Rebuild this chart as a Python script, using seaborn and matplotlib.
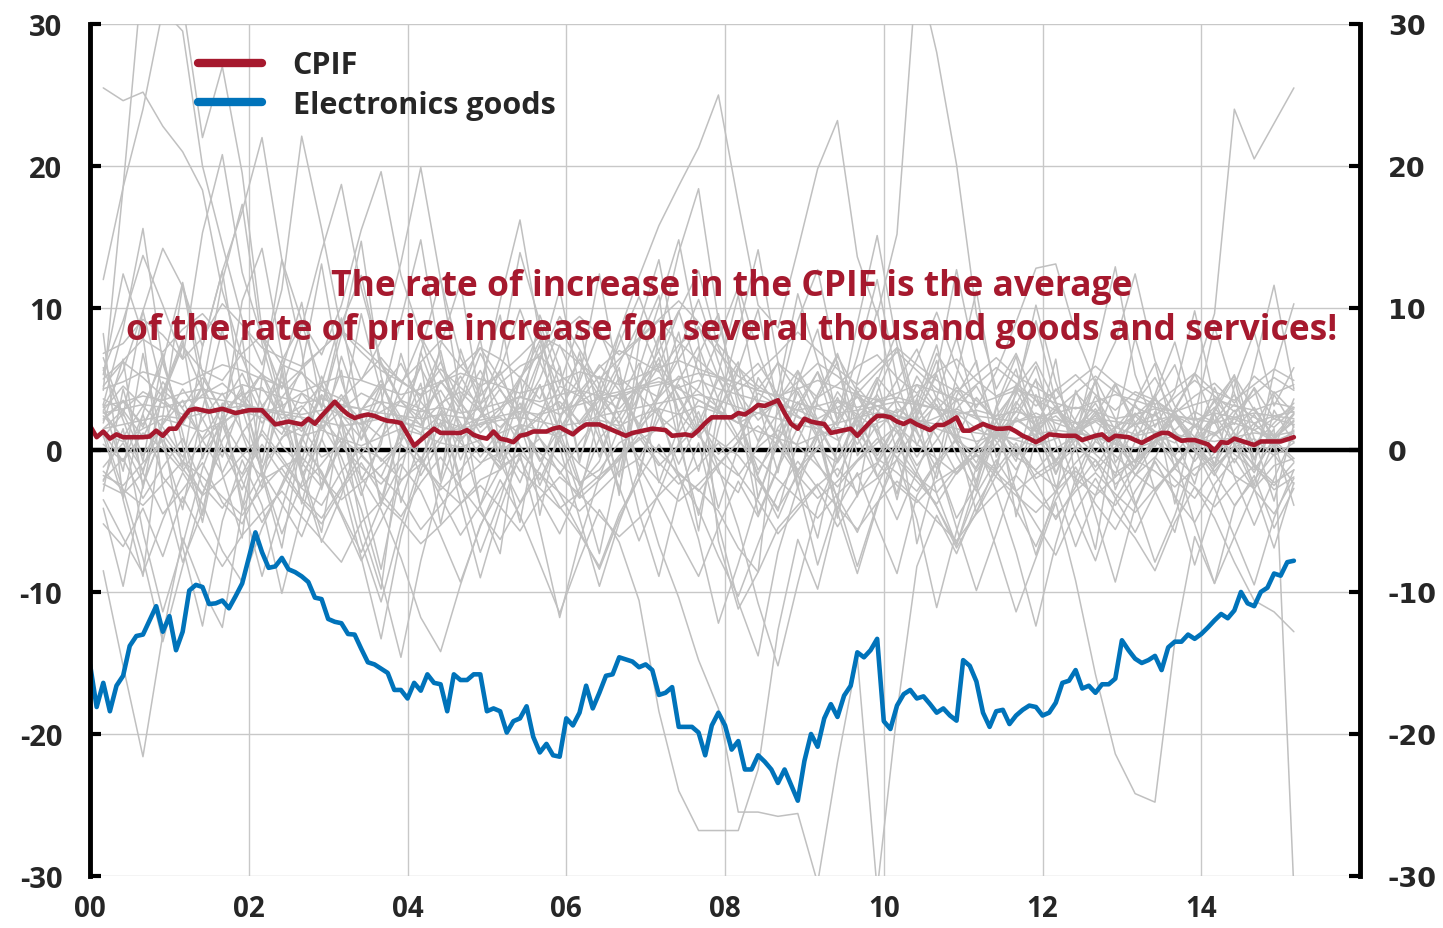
'''
CPIF versus electronics goods, annual percentage change, 2000-2015,
with the individual CPIF sub-indices drawn as thin grey lines behind.
'''

import numpy as np
import pandas as pd
import seaborn as sns
import matplotlib.pyplot as plt
from matplotlib.lines import Line2D

sns.set_style('white')
plt.rcParams['font.family'] = ['Open Sans', 'DejaVu Sans']
plt.rcParams['font.weight'] = 'bold'
plt.rcParams['axes.unicode_minus'] = False

RED = '#A6192E'
BLUE = '#0073BA'
GREY = '#C0C0C0'

# monthly, Jan 2000 - Mar 2015
cpif = [1.7, 0.9, 1.3, 0.8, 1.1, 0.9, 0.9, 0.9, 0.9, 0.95, 1.36, 1.0,
        1.5, 1.5, 2.2, 2.8, 2.9, 2.8, 2.7, 2.8, 2.9, 2.75, 2.6, 2.7,
        2.8, 2.8, 2.8, 2.3, 1.8, 1.9, 2.0, 1.9, 1.8, 2.2, 1.85, 2.4,
        2.9, 3.4, 2.9, 2.5, 2.25, 2.4, 2.5, 2.4, 2.2, 2.05, 2.0, 1.9,
        1.1, 0.3, 0.7, 1.1, 1.5, 1.2, 1.2, 1.2, 1.2, 1.4, 1.06, 0.9,
        0.8, 1.3, 0.8, 0.7, 0.55, 1.0, 1.1, 1.3, 1.3, 1.3, 1.5, 1.6,
        1.35, 1.1, 1.5, 1.8, 1.8, 1.8, 1.6, 1.4, 1.2, 1.0, 1.2, 1.3,
        1.4, 1.5, 1.45, 1.4, 1.0, 1.05, 1.1, 1.0, 1.4, 1.9, 2.3, 2.3,
        2.3, 2.3, 2.6, 2.5, 2.8, 3.17, 3.1, 3.3, 3.5, 2.6, 1.83, 1.5,
        2.2, 2.0, 1.9, 1.83, 1.2, 1.3, 1.4, 1.5, 1.0, 1.5, 2.0, 2.4,
        2.4, 2.3, 2.0, 1.83, 2.07, 1.8, 1.6, 1.4, 1.76, 1.76, 2.0, 2.3,
        1.36, 1.36, 1.6, 1.83, 1.65, 1.5, 1.5, 1.55, 1.3, 1.0, 0.8, 0.55,
        0.8, 1.1, 1.05, 1.0, 1.0, 1.0, 0.7, 0.85, 1.0, 1.1, 0.7, 1.0,
        0.95, 0.9, 0.7, 0.5, 0.75, 1.0, 1.2, 1.2, 0.9, 0.65, 0.7, 0.7,
        0.55, 0.4, -0.05, 0.55, 0.5, 0.8, 0.65, 0.5, 0.35, 0.6, 0.6, 0.6,
        0.6, 0.75, 0.9]

electronics = [-15.1, -18.1, -16.4, -18.4, -16.6, -15.9, -13.8, -13.1, -13.0, -12.0, -11.0, -12.8,
               -11.7, -14.1, -12.8, -9.9, -9.5, -9.65, -10.85, -10.8, -10.6, -11.15, -10.3, -9.4,
               -7.6, -5.8, -7.2, -8.3, -8.2, -7.6, -8.4, -8.6, -8.9, -9.3, -10.4, -10.5,
               -11.9, -12.1, -12.2, -12.96, -13.0, -14.0, -14.95, -15.1, -15.4, -15.7, -16.9, -16.9,
               -17.5, -16.4, -16.95, -15.8, -16.4, -16.5, -18.4, -15.8, -16.2, -16.2, -15.8, -15.8,
               -18.4, -18.2, -18.4, -19.9, -19.1, -18.9, -18.05, -20.2, -21.3, -20.7, -21.5, -21.6,
               -18.9, -19.4, -18.5, -16.6, -18.2, -17.1, -15.9, -15.8, -14.6, -14.75, -14.9, -15.3,
               -15.1, -15.5, -17.25, -17.1, -16.7, -19.5, -19.5, -19.5, -19.9, -21.5, -19.4, -18.5,
               -19.4, -21.1, -20.5, -22.5, -22.5, -21.5, -21.95, -22.5, -23.45, -22.5, -23.6, -24.7,
               -21.9, -20.0, -20.9, -18.9, -17.9, -18.8, -17.3, -16.6, -14.25, -14.6, -14.1, -13.3,
               -19.1, -19.65, -18.0, -17.2, -16.9, -17.5, -17.35, -17.9, -18.5, -18.2, -18.7, -19.06,
               -14.8, -15.2, -16.3, -18.5, -19.5, -18.4, -18.3, -19.3, -18.7, -18.3, -18.0, -18.1,
               -18.7, -18.5, -17.8, -16.4, -16.25, -15.5, -16.8, -16.6, -17.1, -16.5, -16.5, -16.1,
               -13.4, -14.1, -14.7, -15.0, -14.8, -14.5, -15.5, -13.9, -13.5, -13.5, -13.0, -13.3,
               -12.96, -12.5, -12.0, -11.55, -11.85, -11.3, -10.0, -10.8, -11.0, -10.0, -9.7, -8.7,
               -8.85, -7.9, -7.8]

# sub-indices, quarterly (Mar 2000 - Mar 2015), read off roughly
sub_indices = [
    [2.1, 3.4, 1.8, 4.2, 3.0, 5.1, 2.7, 3.9, 4.4, 2.2, 3.1, 1.5, 2.8, 4.0, 3.3, 2.1, 1.2, 2.5, 0.8, 1.9,
     2.3, 1.1, 2.6, 3.4, 2.0, 3.8, 2.9, 4.5, 3.7, 5.2, 4.1, 3.0, 4.8, 6.1, 3.9, 2.4, 1.5, 0.7, 2.2, 3.1,
     2.6, 3.9, 2.8, 4.4, 3.5, 2.1, 3.0, 1.7, 2.4, 1.2, 2.0, 0.9, 1.8, 2.5, 1.4, 2.7, 1.9, 3.2, 2.3, 1.6, 2.9],
    [-1.2, 0.5, -2.3, 1.1, -0.8, -3.1, 0.2, -1.7, 1.4, -0.5, -2.6, -1.0, 0.8, -0.3, -1.9, 1.2, -0.6, -2.8, -1.4, 0.4,
     -0.9, 1.6, -0.2, -1.5, -3.4, -2.1, -0.7, 0.9, -1.1, 0.3, 1.8, 0.6, -0.4, -2.2, -4.1, -1.8, 0.1, -0.9, 1.3, -0.6,
     -1.6, -2.9, -0.8, 0.7, -0.3, -1.4, 0.5, -2.0, -1.1, 0.2, -0.7, -2.4, -1.3, 0.6, -0.5, -1.8, -0.2, 1.0, -1.2, -2.5, -0.9],
    [4.5, 6.2, 5.1, 3.8, 7.3, 5.6, 4.9, 6.8, 8.1, 6.0, 5.4, 4.2, 3.6, 5.0, 6.5, 4.8, 3.9, 5.7, 4.4, 3.2,
     4.7, 5.9, 6.6, 5.3, 4.1, 5.8, 7.0, 6.3, 5.5, 7.4, 8.6, 6.9, 5.2, 4.3, 6.1, 5.0, 3.7, 4.6, 5.9, 6.7,
     5.1, 4.0, 5.5, 6.4, 4.9, 3.8, 4.5, 3.1, 4.2, 5.3, 3.9, 2.8, 4.1, 3.5, 2.6, 3.8, 4.7, 3.3, 5.2, 4.0, 4.6],
    [3.2, -1.5, 6.8, 0.4, -4.2, 2.9, 8.5, 1.1, -2.7, 5.4, -0.8, 4.6, 9.3, 2.0, -3.6, 1.7, 6.1, -1.9, 3.5, 7.8,
     0.2, -5.1, 2.4, 5.9, -0.6, 3.1, 8.2, 4.4, -2.3, 1.6, 6.7, 9.6, 3.0, -4.5, -1.2, 2.8, 5.5, 0.9, -3.3, 4.1,
     7.2, 1.4, -2.0, 3.8, 6.3, -0.5, 2.2, 5.0, -1.7, 1.3, 4.9, -2.8, 0.6, 3.7, 6.0, 1.8, -1.0, 2.5, 4.3, 0.1, 3.6],
    [1.5, 1.8, 2.1, 2.4, 2.2, 2.6, 2.9, 3.1, 2.8, 2.5, 2.3, 2.0, 1.7, 1.9, 2.2, 2.0, 1.6, 1.3, 1.5, 1.8,
     2.1, 2.3, 2.0, 1.7, 1.9, 2.4, 2.7, 3.0, 3.3, 3.6, 3.9, 3.5, 3.0, 2.6, 2.2, 1.8, 1.5, 1.9, 2.3, 2.6,
     2.4, 2.1, 1.8, 1.5, 1.2, 1.0, 0.8, 1.1, 1.4, 1.2, 0.9, 0.7, 1.0, 1.3, 1.1, 0.8, 0.6, 0.9, 1.2, 1.0, 1.3],
    [5.3, 12.4, 8.1, -2.6, -7.9, -4.3, 1.8, 10.5, 14.2, 6.7, -1.4, -5.8, 2.3, 9.6, 4.1, -3.7, 0.9, 7.4, 11.8, 3.2,
     6.5, 13.9, 9.0, 4.6, 8.8, 2.1, -1.9, 5.7, 10.2, 14.8, 7.5, -6.4, -11.2, -8.6, 3.4, 9.1, 12.7, 6.0, 1.5, 4.8,
     8.3, 2.6, -3.1, -6.7, -2.2, 1.4, -0.8, 3.9, 0.5, -4.6, -7.8, -3.5, -1.1, 2.7, -0.4, -5.2, -9.4, -6.1, -2.8, 0.6, -3.9],
    [3.1, 3.4, 3.8, 3.5, 4.0, 4.3, 3.9, 4.6, 4.2, 3.7, 3.3, 3.6, 3.2, 2.9, 3.4, 3.1, 2.7, 3.0, 2.6, 2.9,
     3.3, 3.7, 3.4, 3.9, 4.2, 3.8, 4.1, 4.5, 4.8, 4.4, 4.9, 4.3, 3.9, 3.5, 3.2, 2.8, 3.1, 3.5, 3.0, 3.4,
     3.7, 3.3, 2.9, 2.5, 2.8, 2.4, 2.7, 2.3, 2.6, 3.0, 2.7, 2.2, 2.5, 2.9, 2.4, 2.1, 2.6, 2.3, 1.9, 2.4, 2.2],
    [-2.4, -3.1, -1.6, -4.5, -2.8, -0.9, -3.7, -5.2, -2.1, -1.3, -3.4, -4.8, -2.6, -0.4, -1.9, -3.3, -5.6, -3.9, -2.2, -1.0,
     0.8, -1.5, -2.7, -4.1, -3.0, -1.8, -0.6, 1.2, -0.9, -2.4, -1.1, 0.5, -1.7, -3.6, -5.9, -4.2, -2.5, -1.3, -3.0, -2.0,
     -0.7, -2.2, -3.8, -1.6, -0.3, -1.9, -3.2, -4.4, -2.9, -1.5, -2.6, -3.9, -1.8, -0.5, -2.1, -3.4, -1.2, 0.3, -1.0, -2.3, -1.4],
    [8.2, -3.5, -8.9, 2.4, 11.6, 4.3, -1.7, -6.2, 5.1, 13.4, 7.0, -2.8, 1.9, -5.4, -9.8, 0.6, 6.9, 12.1, 3.7, -4.0,
     -7.3, 2.2, 9.5, 5.8, -0.9, 4.7, -3.2, 7.6, 10.9, 1.3, -5.7, 3.0, 8.4, 14.1, 6.2, -2.5, -8.1, -3.6, 4.9, 9.8,
     2.7, -6.6, -1.4, 5.3, 11.2, 3.5, -4.7, 0.8, 6.4, -2.1, -7.0, 1.6, 7.9, 3.1, -3.8, 2.3, 8.7, 4.0, -1.2, 5.6, 10.3],
    [0.4, -0.8, 1.2, 0.1, -1.5, 0.7, 2.0, -0.3, -1.9, 0.9, 1.6, -0.5, 0.3, -1.2, -2.4, -0.6, 0.8, 1.9, 0.5, -0.9,
     -0.2, 1.1, 2.3, 0.6, -1.0, -2.1, -0.4, 0.7, 1.5, 2.6, 1.0, -0.7, -1.8, 0.2, 1.4, 0.3, -1.1, -2.6, -0.8, 0.5,
     1.7, 0.4, -0.6, -1.7, -0.2, 0.9, -0.5, -1.4, 0.1, 1.0, -0.3, -1.6, -0.7, 0.6, 1.3, -0.1, -1.2, 0.2, 0.8, -0.4, 0.5],
    [2.6, 2.9, 3.2, 3.0, 3.4, 3.7, 3.5, 3.2, 2.9, 2.7, 2.5, 2.8, 3.1, 2.9, 2.6, 2.4, 2.2, 2.5, 2.3, 2.1,
     2.4, 2.7, 2.5, 2.9, 3.2, 3.6, 3.9, 4.3, 4.6, 5.0, 5.4, 5.1, 4.7, 4.2, 3.8, 3.3, 2.9, 2.6, 2.8, 3.1,
     3.4, 3.2, 2.9, 2.7, 2.4, 2.2, 2.0, 2.3, 2.1, 1.9, 2.2, 2.0, 1.8, 2.1, 2.4, 2.2, 1.9, 2.3, 2.6, 2.4, 2.7],
    [-1.8, -2.5, -0.9, 0.7, -1.3, -3.2, -2.0, -0.4, 1.1, -0.8, -2.7, -3.9, -1.5, 0.2, -0.6, -2.1, -1.0, 0.9, 1.8, 0.4,
     -1.2, -0.3, 0.8, -0.9, -2.3, -1.4, 0.5, 1.3, -0.2, -1.6, -2.9, -1.1, 0.6, 1.7, 0.3, -1.8, -3.4, -2.2, -0.7, 0.8,
     -0.5, -1.9, -3.0, -1.3, 0.1, 1.4, 0.2, -1.5, -2.6, -0.9, 0.6, -0.4, -1.7, -2.8, -1.1, 0.5, 1.2, -0.3, -1.4, 0.7, -0.6],
    [6.8, 7.5, 9.2, 8.1, 6.4, 7.9, 10.3, 8.8, 7.2, 6.5, 5.9, 7.1, 8.4, 6.9, 5.6, 4.8, 6.2, 7.7, 5.9, 4.5,
     5.3, 6.6, 8.0, 7.3, 6.1, 5.0, 6.4, 7.8, 9.1, 7.6, 6.3, 5.1, 4.2, 5.5, 6.8, 8.3, 7.0, 5.7, 4.6, 5.9,
     7.2, 6.0, 4.9, 4.1, 5.3, 6.5, 5.2, 4.4, 3.6, 4.8, 5.9, 4.7, 3.9, 3.2, 4.3, 5.4, 4.1, 3.5, 4.6, 5.7, 4.9],
    [-5.2, -6.8, -4.1, -7.5, -3.3, -5.9, -8.2, -6.0, -4.4, -2.9, -4.7, -6.3, -7.9, -5.1, -3.6, -4.9, -6.6, -5.3, -3.8, -2.5,
     -4.0, -5.7, -3.4, -1.9, -3.1, -4.6, -6.1, -4.8, -3.2, -1.7, -2.8, -4.3, -6.9, -8.6, -5.5, -3.9, -2.4, -4.0, -5.6, -3.7,
     -2.2, -3.5, -5.0, -6.4, -4.5, -3.0, -1.8, -3.3, -4.7, -2.9, -1.6, -3.1, -4.4, -2.7, -1.3, -2.6, -4.0, -2.4, -1.1, -2.8, -1.9],
    [4.3, 4.8, 5.5, 5.1, 4.6, 5.3, 6.0, 5.6, 5.0, 4.5, 4.1, 4.7, 5.2, 4.9, 4.4, 3.9, 4.3, 4.8, 5.4, 5.0,
     4.5, 4.0, 4.4, 4.9, 5.5, 5.1, 4.6, 5.2, 5.8, 6.3, 5.7, 5.2, 4.7, 4.2, 3.8, 4.3, 4.9, 4.4, 3.9, 3.5,
     4.0, 4.6, 4.1, 3.6, 3.2, 3.7, 4.2, 3.8, 3.3, 2.9, 3.4, 3.9, 3.5, 3.0, 2.7, 3.2, 3.6, 3.1, 2.8, 3.3, 3.0],
    [1.9, 6.4, -2.7, 4.1, 7.8, -0.6, 3.3, -4.2, 2.8, 5.9, -1.8, 0.7, 6.6, 2.5, -3.9, 1.4, 4.7, -2.2, 7.1, 3.0,
     -0.4, 5.2, -4.6, 2.0, 6.9, 1.2, -2.9, 4.4, 8.0, 2.6, -1.5, 3.8, 6.2, -3.4, 0.9, 5.5, 2.1, -4.8, 1.7, 4.9,
     -0.2, 3.6, 7.4, 1.5, -2.6, 2.9, 5.7, 0.3, -3.1, 4.2, 1.0, -1.9, 3.4, 6.1, 0.8, -2.4, 2.7, 5.0, -0.7, 3.9, 1.6],
    [1.1, 0.6, 1.5, 2.2, 1.8, 1.3, 2.0, 2.7, 2.3, 1.6, 1.0, 1.4, 0.8, 0.3, 0.9, 1.5, 1.1, 0.5, 0.2, 0.7,
     1.2, 1.8, 1.4, 0.9, 1.6, 2.1, 1.7, 2.4, 2.9, 2.5, 3.1, 2.6, 1.9, 1.3, 0.8, 0.4, 1.0, 1.6, 1.2, 1.9,
     2.4, 2.0, 1.5, 1.0, 0.6, 1.1, 0.7, 0.3, 0.8, 1.3, 0.9, 0.4, 0.1, 0.6, 1.0, 0.5, 0.2, 0.7, 0.3, 0.8, 0.6],
    [2.7, 0.8, -1.4, 1.9, 4.3, 2.2, -0.5, 3.6, 5.4, 1.7, -0.9, -2.6, 0.4, 2.8, 4.9, 1.5, -1.8, 0.6, 3.2, 5.6,
     2.9, 0.3, -2.1, 1.0, 3.5, 5.2, 2.4, 4.7, 6.1, 3.8, 1.2, -1.6, -3.0, 0.5, 2.6, 4.4, 1.9, -0.7, 2.3, 3.9,
     1.4, -1.1, 0.7, 2.9, 4.5, 2.0, -0.3, 1.6, 3.1, 0.9, -1.5, 0.2, 2.4, 3.7, 1.3, -0.8, 1.1, 2.8, 0.4, 1.9, 3.3],
    [3.6, 2.8, 4.1, 3.3, 2.5, 3.9, 4.7, 3.4, 2.6, 3.1, 4.0, 3.2, 2.4, 1.8, 2.7, 3.5, 2.9, 2.1, 1.6, 2.3,
     3.0, 3.8, 3.1, 2.5, 3.4, 4.2, 3.6, 4.4, 5.1, 4.3, 3.5, 2.7, 1.9, 2.6, 3.3, 2.8, 2.2, 3.0, 3.7, 3.1,
     2.4, 1.7, 2.3, 2.9, 2.2, 1.5, 2.0, 2.6, 1.9, 1.4, 2.1, 1.6, 1.1, 1.8, 2.4, 1.7, 1.2, 1.9, 1.4, 2.2, 1.8],
    [-1.5, -2.8, -3.9, -2.4, -0.8, -1.9, -3.3, -4.6, -2.7, -1.2, -0.5, -2.0, -3.5, -2.3, -1.1, 0.4, -0.9, -2.5, -3.8, -2.1,
     -1.4, -0.2, -1.7, -3.0, -4.3, -2.9, -1.5, -0.6, -2.2, -3.6, -2.4, -1.0, 0.6, -0.7, -2.1, -3.4, -4.8, -3.1, -1.8, -0.9,
     -2.5, -3.7, -2.2, -1.3, -0.4, -1.6, -2.9, -1.7, -0.8, -2.0, -3.2, -1.9, -0.7, -1.5, -2.6, -1.3, -0.5, -1.8, -2.7, -1.1, -0.6],
    [5.8, 2.1, -1.6, 3.9, 7.5, 4.2, 0.3, -2.8, 1.5, 6.3, 8.9, 4.7, 1.0, -3.2, 0.8, 4.5, 7.9, 3.6, -0.7, 2.4,
     5.6, 1.8, -2.5, 0.9, 4.8, 8.4, 5.0, 1.3, 3.7, 7.0, 10.6, 6.2, 2.5, -1.9, -4.3, 0.6, 3.9, 6.8, 2.7, -0.8,
     1.9, 5.2, 3.1, -0.4, -2.9, 1.2, 4.6, 2.3, -1.1, 0.7, 3.8, 1.4, -1.8, 0.5, 2.9, 5.4, 2.0, -0.9, 1.6, 4.1, 2.6],
    [-3.5, -6.2, -8.7, -4.9, -1.6, -3.8, -7.1, -9.3, -5.5, -2.4, 0.9, -1.7, -4.6, -7.8, -5.0, -2.2, -0.5, -3.3, -6.0, -3.9,
     -1.3, 1.8, -0.6, -3.1, -5.7, -8.4, -4.8, -2.0, 0.4, -1.9, -4.2, -7.5, -10.3, -6.6, -3.0, -0.8, -2.7, -5.4, -3.2, -1.0,
     1.3, -1.5, -4.0, -6.9, -4.4, -1.8, 0.2, -2.3, -4.9, -2.6, -0.7, -3.4, -5.8, -3.0, -1.1, 0.8, -1.6, -3.9, -2.1, -0.3, -2.4],
    [2.8, 4.5, 3.1, 6.2, 11.8, 5.4, 2.6, 4.1, 1.9, 3.7, 5.5, 3.0, 8.9, 12.3, 6.0, 3.4, 2.2, 4.8, 3.3, 1.6,
     2.9, 5.1, 3.6, 7.4, 4.3, 2.5, 1.4, 3.8, 5.9, 9.7, 12.6, 7.2, 4.0, 2.1, 3.5, 5.6, 3.2, 1.7, 4.4, 2.8,
     1.2, 3.1, 6.8, 4.6, 2.3, 0.9, 2.7, 4.9, 3.0, 1.5, 2.4, 0.8, 1.9, 3.6, 2.2, 0.6, 2.0, 3.9, 1.8, 0.7, 2.5],
    [0.9, 2.6, -0.4, 1.8, 3.5, 0.7, -1.6, 1.2, 3.1, 0.3, -1.2, 2.0, 3.9, 1.5, -0.8, 0.6, 2.8, 4.2, 1.9, -0.5,
     1.4, 3.3, 0.8, -1.7, 0.5, 2.4, 4.0, 1.6, 3.0, 4.6, 2.2, -0.3, 1.1, 3.4, 0.9, -1.4, 0.2, 2.1, 3.8, 1.3,
     -0.6, 1.7, 3.2, 0.6, -1.5, 0.4, 2.3, 1.0, -0.9, 1.5, 2.9, 0.5, -1.3, 0.7, 2.2, 0.1, -1.8, 0.8, 2.5, 0.2, 1.4],
    [-2.2, 1.5, -5.8, -11.4, -6.7, -1.3, 2.4, -3.6, -8.9, -4.1, 0.6, 3.8, -1.2, -6.5, -10.7, -5.3, -0.9, 2.7, -2.4, -7.2,
     -3.5, 1.1, 4.6, 0.2, -4.8, -9.6, -5.1, -1.4, 2.9, -1.8, -6.3, -12.2, -8.0, -3.3, 0.5, 4.1, 1.0, -4.4, -8.7, -4.0,
     0.3, 3.6, -0.8, -5.5, -9.9, -5.9, -1.7, 2.2, -2.6, -6.8, -3.2, 0.9, -3.7, -7.9, -4.6, -0.5, 2.6, -1.9, -5.3, -2.0, 1.1],
    [5.0, 6.3, 7.8, 6.9, 8.5, 9.6, 8.0, 6.6, 5.3, 4.4, 5.7, 7.1, 8.4, 7.3, 6.0, 4.9, 3.8, 4.7, 5.9, 7.2,
     6.4, 5.1, 6.8, 8.2, 9.4, 8.1, 6.7, 7.9, 9.2, 10.5, 9.0, 7.4, 5.8, 4.5, 3.6, 4.8, 6.1, 5.2, 4.0, 5.5,
     6.9, 5.6, 4.3, 3.4, 4.6, 5.8, 4.7, 3.5, 2.8, 4.0, 5.2, 4.1, 3.0, 2.4, 3.7, 4.9, 3.8, 2.7, 3.9, 5.1, 4.2],
    [-2.9, 4.3, -0.8, 6.5, 1.2, -4.6, 2.7, 7.9, -1.5, 3.4, -3.8, 1.9, 5.6, -2.1, 0.4, 6.8, 2.3, -5.2, 1.0, 4.7,
     -0.6, 3.9, 7.4, 0.9, -3.3, 2.6, 5.8, -1.9, 4.2, 8.3, 1.7, -4.1, 0.2, 5.1, 2.9, -2.7, 3.6, 6.2, -0.4, 1.8,
     -3.5, 2.4, 5.3, 0.6, -2.2, 3.1, 6.6, 1.3, -1.7, 2.2, 4.8, -0.9, 1.5, 3.9, -1.3, 0.7, 4.4, 1.1, -2.5, 2.8, 0.5],
    [1.4, -2.8, -7.6, -13.5, -8.2, -3.1, 0.7, 2.9, -1.6, -5.9, -2.3, 1.8, -0.5, -4.2, -9.1, -14.6, -7.8, -2.4, 1.5, 3.2,
     -0.9, -3.7, -1.2, 2.3, 4.1, 0.8, -2.6, -6.4, -3.0, 0.5, 2.7, -1.3, -5.5, -10.8, -15.2, -9.4, -4.0, -0.7, 2.1, -1.8,
     -4.9, -1.5, 1.9, 3.6, 0.4, -2.9, -7.2, -12.4, -6.6, -2.0, 1.2, -1.1, -3.9, -0.6, 2.5, 0.1, -2.7, -6.1, -9.5, -4.8, -1.4],
    [3.2, 8.5, 15.6, 6.1, 1.8, 4.4, 11.9, 17.3, 7.5, 2.6, 5.8, 13.1, 4.9, 0.7, 3.3, 9.2, 14.8, 6.4, 1.1, 4.0,
     10.5, 16.2, 8.0, 2.9, 5.1, 12.4, 4.6, 1.5, 7.8, 13.9, 18.4, 9.1, 3.7, 0.6, 4.2, 11.0, 6.3, 2.0, 8.9, 15.1,
     7.4, 2.4, 5.5, 12.7, 6.0, 1.3, 3.9, 10.2, 4.8, 0.9, 6.7, 12.9, 5.3, 1.6, 4.1, 9.8, 3.5, 0.4, 5.9, 11.6, 4.3],
    [-4.1, -9.6, -2.5, 1.3, -6.8, -12.4, -5.0, -0.7, -3.9, -10.1, -4.5, 0.8, -2.2, -7.6, -13.3, -6.1, -1.4, 2.0, -3.7, -9.0,
     -4.2, -0.3, -5.6, -11.8, -6.4, -1.9, 1.6, -4.4, -8.9, -3.1, 0.5, -5.3, -10.7, -14.5, -7.2, -2.6, 0.9, -3.5, -8.2, -3.8,
     -0.6, -4.9, -11.1, -5.7, -1.2, 1.7, -2.9, -7.4, -3.0, 0.2, -4.6, -9.3, -4.0, -0.8, -3.2, -8.1, -3.6, 0.4, -2.7, -6.9, -2.3],
    [6.5, 2.4, 9.8, 4.1, -1.2, 7.3, 12.6, 3.8, -0.9, 5.6, 10.4, 2.9, 8.1, 14.7, 5.2, 0.6, 6.9, 3.0, -2.1, 4.7,
     9.5, 1.8, 6.2, 11.3, 4.4, -0.5, 3.6, 8.8, 13.4, 6.0, 1.2, 5.4, 10.9, 3.3, -1.6, 4.8, 8.5, 2.1, 6.6, 12.0,
     4.9, 0.3, 3.7, 7.9, 2.6, -1.4, 4.2, 9.1, 3.4, 0.1, 5.0, 2.2, -0.9, 3.9, 7.6, 2.5, -1.1, 4.5, 8.3, 3.1, 5.8],
    [1.0, -3.4, 2.6, 6.8, 0.3, -5.1, 1.9, 4.5, -1.8, -6.9, 0.8, 5.2, 2.1, -2.7, -8.4, -1.5, 3.6, 7.0, 1.2, -3.9,
     0.4, 4.9, 8.6, 2.3, -2.2, -7.3, -0.9, 3.8, 6.5, 0.6, -4.6, 1.5, 5.7, 9.9, 3.0, -1.7, -6.2, 0.2, 4.1, 1.1,
     -3.1, 2.7, 6.3, 0.9, -4.4, -1.0, 3.2, 5.9, 1.4, -2.5, 0.7, 4.6, 1.6, -2.9, -5.8, -0.4, 2.9, 5.3, 0.8, -3.6, 1.8],
    [2.2, 3.5, 1.6, 4.8, 2.9, 0.8, 3.1, 5.4, 2.5, 1.1, 4.0, 2.3, 0.5, 2.8, 4.6, 1.9, 3.7, 6.2, 3.4, 1.2,
     2.6, 4.9, 7.7, 4.0, 1.8, 3.5, 6.1, 8.9, 5.6, 2.7, 4.4, 7.8, 11.5, 6.9, 3.2, 1.4, 3.9, 6.6, 4.1, 2.0,
     3.6, 6.4, 9.7, 5.8, 3.0, 5.5, 9.0, 12.8, 13.1, 8.2, 4.7, 7.6, 12.4, 6.3, 3.1, 1.6, 3.4, 5.2, 2.8, 1.0, 2.6],
    [5.6, 9.1, 13.7, 10.2, 6.4, 15.3, 20.8, 12.5, 7.9, 4.3, 8.6, 14.0, 18.7, 11.4, 6.2, 3.5, 1.7, 4.9, 2.8, 0.6,
     -1.4, 2.0, 4.6, 1.3, -2.5, -0.8, 3.4, 6.1, 2.4, -1.0, 1.9, 5.0, 2.2, -2.0, -4.8, -1.5, 1.1, 3.7, 0.9, -1.9,
     0.6, 2.9, 1.0, -1.6, 0.3, 2.4, 4.2, 1.7, -0.8, 1.5, 3.3, 0.9, -1.3, 1.0, 2.7, 0.5, -1.1, 1.4, 3.0, 0.8, 2.0],
    [25.5, 24.6, 25.2, 22.8, 21.0, 18.3, 11.2, 6.5, 3.1, 4.8, 2.2, 1.5, 3.6, 2.1, 0.9, 2.4, 1.8, 3.3, 4.1, 2.7,
     1.6, 3.0, 2.2, 4.5, 3.8, 2.6, 5.1, 3.9, 2.4, 1.2, 3.5, 2.8, 1.9, 4.0, 3.1, 2.3, 1.7, 3.4, 2.5, 1.4,
     2.9, 2.0, 3.7, 2.6, 1.5, 0.8, 2.1, 1.3, 2.8, 1.9, 0.7, 1.6, 2.4, 1.1, 0.5, 1.8, 1.0, 2.2, 1.4, 0.6, 1.2],
    [4.2, 18.5, 34.0, 36.0, 31.5, 22.0, 27.0, 19.5, 8.4, 3.2, -1.8, -6.5, -3.2, 1.4, 4.6, 2.3, -0.8, 3.1, 5.2, 2.7,
     0.4, -2.3, 1.5, 3.8, 6.4, 4.1, 1.8, -0.6, 2.2, 4.9, 7.3, 3.5, 0.9, -1.7, 1.6, 3.4, 0.8, -1.9, 1.2, 3.6,
     2.0, -0.5, 1.8, 4.2, 2.5, 0.6, -1.4, 1.1, 2.9, 0.7, -1.2, 0.9, 2.6, 1.3, -0.4, 1.7, 3.0, 1.2, -0.6, 1.5, -31.0],
    [-8.5, -15.2, -21.6, -13.0, -6.2, -9.8, -12.5, -4.1, -1.5, -3.8, -6.1, -2.4, 0.5, -1.9, -4.2, -7.6, -11.8, -14.2, -9.5, -5.3,
     -2.8, -0.6, -3.4, -5.9, -2.7, 0.8, 2.4, -1.1, -3.6, -6.3, -8.9, -5.4, -2.2, -4.7, -1.3, 1.6, -0.9, -3.3, -5.8, -2.5,
     0.3, -1.8, -4.0, -6.6, -3.1, -0.7, -2.9, -5.2, -7.4, -4.3, -2.0, -4.4, -6.2, -8.5, -5.1, -2.6, -4.8, -7.9, -10.6, -11.4, -12.8],
    [3.0, 5.6, 9.8, 14.2, 11.5, 7.3, 12.6, 16.8, 22.0, 13.4, 9.1, 6.7, 10.2, 15.5, 19.6, 12.3, 8.0, 5.4, 3.1, 6.8,
     4.2, 2.5, 5.0, 8.6, 6.1, 3.7, 1.9, 4.4, 7.0, 9.8, 5.5, 2.8, 0.6, 3.3, 6.2, 4.0, 1.7, -0.8, 2.6, 5.1,
     3.4, 1.2, -1.3, 0.9, 3.7, 2.1, -0.4, 1.8, 4.3, 2.0, -0.2, 1.5, 3.2, 1.0, -1.1, 0.7, 2.5, 0.4, -1.6, 0.9, 2.1],
    [1.5, 2.8, 0.9, 3.6, 2.2, 4.5, 1.8, 3.1, 5.4, 2.7, 1.3, 3.9, 2.5, 0.8, 4.2, 6.1, 3.4, 1.6, 4.8, 7.2,
     5.0, 2.9, 6.5, 9.4, 7.1, 4.6, 8.3, 12.2, 15.8, 18.6, 21.3, 25.0, 17.4, 10.2, 8.6, 14.1, 19.8, 23.2, 13.6, 9.5,
     15.2, 34.0, 28.0, 20.1, 9.6, 4.3, 6.8, 3.5, 1.2, 4.0, 2.6, 0.7, 3.3, 5.1, 2.4, 0.9, 3.6, 1.8, 4.4, 2.2, 3.0],
    [-2.1, -0.6, -3.4, -1.2, 0.8, -2.5, -4.1, -1.9, 0.4, -1.7, -3.6, -5.2, -2.8, -0.9, -3.1, -4.7, -2.3, -0.5, -2.6, -4.4,
     -6.3, -3.8, -1.6, -4.0, -5.9, -8.2, -4.5, -2.0, -6.7, -10.4, -14.8, -18.2, -25.5, -25.5, -25.8, -25.6, -30.5, -22.0, -14.6, -31.0,
     -18.5, -8.2, -4.6, -7.3, -3.9, -1.4, -4.2, -6.8, -3.5, -1.2, -3.8, -5.6, -2.9, -0.8, -3.3, -5.1, -2.4, -0.6, -2.8, -4.5, -2.0],
    [1.2, -0.8, 2.5, -1.9, -3.7, -0.4, 1.8, -2.2, -5.1, -2.6, 0.3, -1.5, -4.4, -7.2, -3.8, -1.0, -2.9, -6.0, -9.3, -5.4,
     -2.1, -4.6, -8.0, -11.5, -7.7, -4.2, -6.5, -10.6, -18.4, -24.0, -26.8, -26.8, -26.8, -22.5, -12.7, -6.3, -9.8, -4.1, -1.6, -5.3,
     -8.7, -3.2, -0.9, -4.8, -2.5, -6.9, -11.4, -7.6, -3.7, -9.2, -15.8, -21.4, -24.2, -24.8, -13.5, -6.1, -9.4, -4.0, -1.8, -5.5, -2.7],
    [2.4, 0.9, 3.1, 1.6, -0.5, 2.2, 4.0, 1.3, -1.2, 0.8, 2.9, 4.6, 2.1, -0.3, 1.7, 3.5, 5.8, 3.0, 0.6, 2.4,
     4.3, 1.9, -0.8, 1.5, 3.7, 6.0, 4.2, 1.8, 3.9, 6.4, 8.7, 5.1, 2.3, -1.4, 0.7, 3.2, 5.5, 2.9, 0.4, 2.6,
     4.9, 7.1, 3.6, 1.0, -0.9, 2.0, 4.4, 6.2, 3.3, 0.8, 2.5, 4.7, 1.9, 0.2, 2.8, 5.3, 9.6, 24.0, 20.5, 23.0, 25.5],
    [12.0, 18.5, 24.0, 31.0, 29.5, 20.0, 14.5, 9.2, 6.0, 11.3, 22.1, 15.6, 8.4, 4.9, 7.7, 13.2, 19.9, 12.0, 6.5, 3.8,
     5.6, 9.9, 6.2, 3.1, 1.4, 4.0, 7.5, 10.8, 6.9, 3.6, 0.9, 2.7, 5.9, 3.2, 0.8, -1.6, 1.3, 4.1, 2.2, -0.4,
     1.9, 4.6, 2.8, 0.5, -1.3, 1.0, 3.4, 1.6, -0.7, 0.9, 2.7, 1.1, -0.9, 0.6, 2.3, 0.4, -1.5, 0.3, 1.9, 0.5, -0.8],
]

year_ticks = [2000, 2002, 2004, 2006, 2008, 2010, 2012, 2014]
year_labels = ['00', '02', '04', '06', '08', '10', '12', '14']
y_ticks = [-30, -20, -10, 0, 10, 20, 30]

# long tables for seaborn
grey_rows = []
for k, vals in enumerate(sub_indices):
    for i, v in enumerate(vals):
        grey_rows.append({'item': k, 'year': 2000 + (2 + 3 * i) / 12, 'value': v})
grey_df = pd.DataFrame(grey_rows)

main_df = pd.concat([
    pd.DataFrame({'year': 2000 + np.arange(len(cpif)) / 12,
                  'value': cpif, 'series': 'CPIF'}),
    pd.DataFrame({'year': 2000 + np.arange(len(electronics)) / 12,
                  'value': electronics, 'series': 'Electronics goods'}),
])

fig = plt.figure(figsize=(14.43, 9.29), dpi=100)
ax = fig.add_axes([0.0624, 0.056, 0.8801, 0.9171])

ax.axhline(0, color='black', lw=3.2, zorder=1)
sns.lineplot(data=grey_df, x='year', y='value', units='item', estimator=None,
             color=GREY, lw=1.1, ax=ax, zorder=2)
sns.lineplot(data=main_df, x='year', y='value', hue='series',
             palette={'CPIF': RED, 'Electronics goods': BLUE},
             lw=3.3, ax=ax, zorder=4, legend=False)

ax.set_xlim(2000, 2016)
ax.set_ylim(-30, 30)
ax.set_xticks(year_ticks)
ax.set_xticklabels(year_labels)
ax.set_yticks(y_ticks)
ax.set_xlabel('')
ax.set_ylabel('')

ax.grid(True, color='#C8C8C8', lw=1.0)
ax.set_axisbelow(True)
for s in ['top', 'bottom']:
    ax.spines[s].set_visible(False)
for s in ['left', 'right']:
    ax.spines[s].set_visible(True)
    ax.spines[s].set_color('black')
    ax.spines[s].set_linewidth(3.5)
    ax.spines[s].set_zorder(5)

ax.tick_params(axis='x', length=0, pad=13, labelsize=20)
ax.tick_params(axis='y', direction='in', length=8, width=3, color='black',
               left=True, right=True, labelleft=True, labelright=True,
               labelsize=21, pad=20)
for t in ax.yaxis.get_major_ticks():
    t.label2.set_fontfamily('DejaVu Sans')
    t.label2.set_fontweight('bold')
    t.label2.set_fontsize(19.5)

handles = [Line2D([], [], color=RED, lw=6), Line2D([], [], color=BLUE, lw=6)]
leg = ax.legend(handles, ['CPIF', 'Electronics goods'], loc='upper left',
                bbox_to_anchor=(0.085, 0.969), frameon=False, fontsize=22,
                handlelength=2.1, handletextpad=1.0, labelspacing=0.3,
                borderpad=0, borderaxespad=0)
for txt in leg.get_texts():
    txt.set_fontweight('bold')

ax.text(0.5055, 0.6925, 'The rate of increase in the CPIF is the average',
        transform=ax.transAxes, ha='center', va='center', color=RED,
        fontsize=25.5, fontweight='bold', zorder=6)
ax.text(0.5055, 0.641, 'of the rate of price increase for several thousand goods and services!',
        transform=ax.transAxes, ha='center', va='center', color=RED,
        fontsize=25.5, fontweight='bold', zorder=6)

fig.savefig('out.png', dpi=100)
plt.close(fig)
